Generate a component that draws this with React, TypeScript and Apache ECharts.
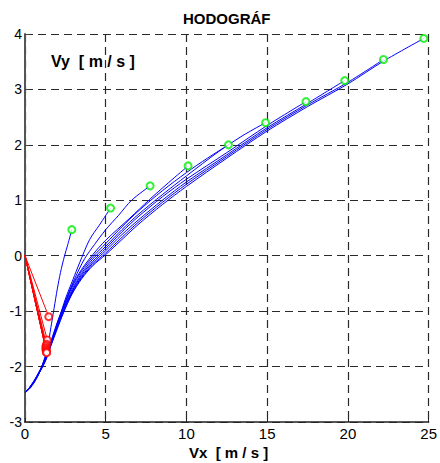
import React, { useEffect, useRef } from "react";
import * as echarts from "echarts";

const xTicks = [0, 5, 10, 15, 20, 25];
const yTicks = [-3, -2, -1, 0, 1, 2, 3, 4];

const curve1 = [[2.9,0.47],[2.65,0.2],[2.45,0],[2.2,-0.3],[2.0,-0.6],[1.8,-0.95],[1.6,-1.3],[1.4,-1.65],[1.1,-1.95],[0.75,-2.2],[0.35,-2.38],[0.05,-2.46]];
const curve2 = [[5.3,0.86],[4.6,0.55],[4.0,0.29],[3.38,-0.13],[2.97,-0.43],[2.5,-0.78],[2.1,-1.15],[1.7,-1.5],[1.35,-1.8],[1.0,-2.03],[0.6,-2.25],[0.25,-2.4],[0.05,-2.46]];
const curve3 = [[7.75,1.26],[6.6,1.0],[5.8,0.73],[5.0,0.47],[4.3,0.2],[3.7,-0.05],[3.1,-0.4],[2.6,-0.75],[2.15,-1.1],[1.7,-1.5],[1.35,-1.8],[1.0,-2.03],[0.6,-2.24],[0.25,-2.39],[0.05,-2.46]];
const curve4 = [[10.1,1.62],[8.9,1.32],[7.7,1.01],[6.5,0.68],[5.0,0.28],[4.2,0.02],[3.5,-0.25],[2.9,-0.55],[2.4,-0.9],[2.0,-1.2],[1.6,-1.55],[1.3,-1.8],[0.95,-2.05],[0.55,-2.26],[0.25,-2.39],[0.05,-2.46]];
const curve5 = [[12.6,2.0],[11.3,1.76],[10,1.5],[8.5,1.17],[7,0.8],[6,0.52],[5,0.22],[4.2,-0.02],[3.5,-0.28],[2.9,-0.58],[2.4,-0.92],[2.0,-1.22],[1.6,-1.57],[1.3,-1.82],[0.95,-2.06],[0.55,-2.27],[0.25,-2.39],[0.05,-2.46]];
const curve6 = [[14.9,2.4],[13.5,2.17],[12,1.88],[10,1.44],[8.5,1.1],[7,0.74],[6,0.47],[5,0.17],[4.2,-0.06],[3.5,-0.32],[2.9,-0.62],[2.4,-0.95],[2.0,-1.25],[1.6,-1.6],[1.3,-1.84],[0.95,-2.07],[0.55,-2.28],[0.25,-2.4],[0.05,-2.46]];
const curve7 = [[17.4,2.78],[15,2.35],[12.5,1.86],[10,1.38],[8.5,1.06],[7,0.7],[6,0.43],[5,0.13],[4.2,-0.1],[3.5,-0.35],[2.9,-0.65],[2.4,-0.97],[2.0,-1.27],[1.6,-1.6],[1.3,-1.85],[0.95,-2.07],[0.55,-2.28],[0.25,-2.4],[0.05,-2.46]];
const curve8 = [[19.8,3.16],[17.5,2.75],[15,2.31],[12.5,1.82],[10,1.33],[8.5,1.0],[7,0.64],[6,0.38],[5,0.09],[4.2,-0.13],[3.5,-0.38],[2.9,-0.67],[2.4,-0.99],[2.0,-1.28],[1.6,-1.61],[1.3,-1.86],[0.95,-2.07],[0.55,-2.28],[0.25,-2.4],[0.05,-2.46]];
const curve9 = [[22.2,3.54],[20,3.13],[17.5,2.72],[15,2.28],[12.5,1.79],[10,1.29],[8.5,0.96],[7,0.6],[6,0.33],[5,0.05],[4.2,-0.16],[3.5,-0.4],[2.9,-0.69],[2.4,-1.0],[2.0,-1.3],[1.6,-1.62],[1.3,-1.87],[0.95,-2.08],[0.55,-2.28],[0.25,-2.4],[0.05,-2.46]];
const curve10 = [[24.7,3.92],[22.2,3.51],[20,3.1],[17.5,2.69],[15,2.25],[12.5,1.76],[10,1.25],[8.5,0.92],[7,0.56],[6,0.29],[5,0.02],[4.2,-0.18],[3.5,-0.42],[2.9,-0.7],[2.4,-1.02],[2.0,-1.32],[1.6,-1.63],[1.3,-1.88],[0.95,-2.08],[0.55,-2.28],[0.25,-2.4],[0.05,-2.46]];

const curves = [curve1, curve2, curve3, curve4, curve5, curve6, curve7, curve8, curve9, curve10];

const redOrigin = [0, 0];
const redEnds = [[1.47,-1.1],[1.38,-1.52],[1.33,-1.6],[1.3,-1.63],[1.3,-1.66],[1.3,-1.68],[1.3,-1.7],[1.32,-1.72],[1.33,-1.74],[1.34,-1.75]];

const FONT = "'Liberation Sans', Arial, sans-serif";

export default function App() {
  const ref = useRef<HTMLDivElement>(null);
  useEffect(() => {
    if (!ref.current) return;
    const chart = echarts.init(ref.current, undefined, { renderer: "svg" });
    const series: any[] = [];
    curves.forEach((c, i) => {
      series.push({
        type: "line",
        name: "c" + i,
        data: c,
        showSymbol: false,
        smooth: 0.3,
        lineStyle: { color: "#0000ff", width: 1 },
        z: 3,
      });
    });
    redEnds.forEach((e, i) => {
      series.push({
        type: "line",
        name: "r" + i,
        data: [redOrigin, e],
        showSymbol: false,
        lineStyle: { color: "#ff0000", width: 1 },
        z: 4,
      });
    });
    series.push({
      type: "scatter",
      data: redEnds,
      symbol: "emptyCircle",
      symbolSize: 7,
      itemStyle: { color: "#ff0000", borderColor: "#ff0000", borderWidth: 1 },
      z: 5,
    });
    series.push({
      type: "scatter",
      data: curves.map((c) => c[0]),
      symbol: "emptyCircle",
      symbolSize: 7,
      itemStyle: { color: "#00ee00", borderColor: "#00ee00", borderWidth: 1 },
      z: 5,
    });
    chart.setOption({
      animation: false,
      backgroundColor: "#ffffff",
      grid: { left: 25, right: 8, top: 34, bottom: 41, containLabel: false },
      xAxis: {
        type: "value",
        min: xTicks[0],
        max: xTicks[xTicks.length - 1],
        interval: 5,
        axisLine: { show: true, onZero: false, lineStyle: { color: "#222", width: 1.5 } },
        axisTick: { show: true, inside: true, length: 4, lineStyle: { color: "#222" } },
        axisLabel: { margin: 4, color: "#000", fontSize: 15, fontFamily: FONT },
        splitLine: { show: true, lineStyle: { color: "#2a2a2a", type: [8, 5], width: 1.2 } },
      },
      yAxis: {
        type: "value",
        min: yTicks[0],
        max: yTicks[yTicks.length - 1],
        interval: 1,
        axisLine: { show: true, onZero: false, lineStyle: { color: "#555", width: 2 } },
        axisTick: { show: true, inside: true, length: 4, lineStyle: { color: "#444" } },
        axisLabel: { margin: 3, color: "#000", fontSize: 14, fontFamily: FONT },
        splitLine: { show: true, lineStyle: { color: "#2a2a2a", type: [8, 5], width: 1.2 } },
      },
      graphic: [
        {
          type: "text",
          left: 183,
          top: 11,
          style: { text: "HODOGRÁF", font: "bold 15px " + FONT, fill: "#000" },
        },
        {
          type: "text",
          left: 51,
          top: 53,
          style: { text: "Vy  [ m / s ]", font: "bold 16px " + FONT, fill: "#000" },
        },
        {
          type: "text",
          left: 189,
          top: 445,
          style: { text: "Vx  [ m / s ]", font: "bold 15px " + FONT, fill: "#000" },
        },
      ],
      series,
    });
    return () => chart.dispose();
  }, []);
  return (
    <div
      ref={ref}
      style={{ position: "absolute", left: 0, top: 0, width: 440, height: 463, background: "#fff" }}
    />
  );
}
